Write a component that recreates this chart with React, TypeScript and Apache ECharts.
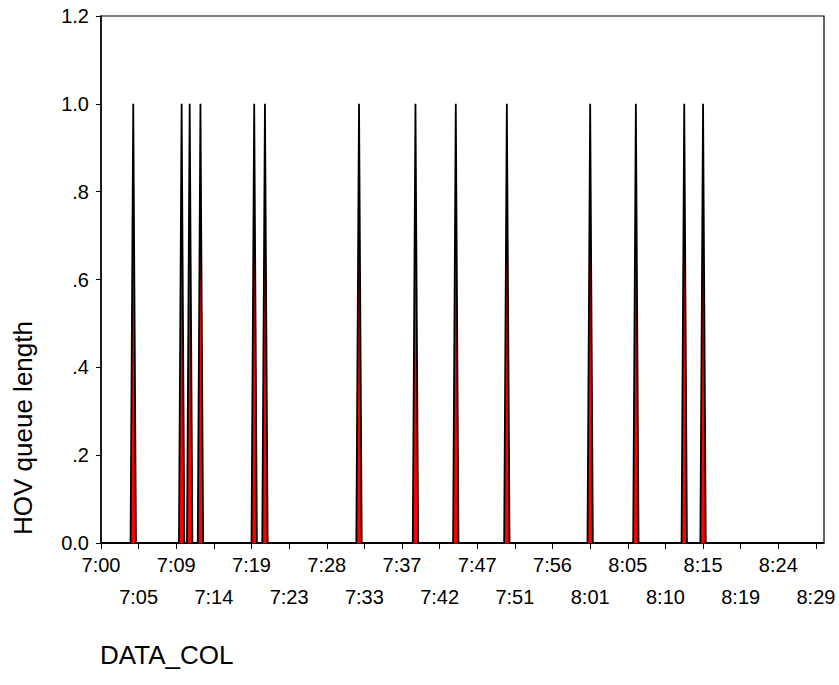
import React, { useEffect, useRef } from "react";
import * as echarts from "echarts";

// Time axis: one observation every 20 seconds, from 7:00:00 for 270 observations
const START_TIME = "7:00:00";
const STEP_SECONDS = 20;
const POINT_COUNT = 270;

// Times where the HOV queue length reached 1 (all other observations are 0)
const SPIKE_TIMES = [
  "7:04:00", "7:10:00", "7:11:00", "7:12:20", "7:19:00", "7:20:20",
  "7:32:00", "7:39:00", "7:44:00", "7:50:20", "8:00:40", "8:06:20",
  "8:12:20", "8:14:40",
];
const SPIKE_VALUE = 1;

const Y_TICKS = [0, 0.2, 0.4, 0.6, 0.8, 1.0, 1.2];
const X_TITLE = "DATA_COL";
const Y_TITLE = "HOV queue length";

function toSec(t: string): number {
  const [h, m, s] = t.split(":").map(Number);
  return h * 3600 + m * 60 + (s || 0);
}
function fmt(sec: number): string {
  const h = Math.floor(sec / 3600);
  const m = Math.floor((sec % 3600) / 60);
  const s = sec % 60;
  return `${h}:${String(m).padStart(2, "0")}:${String(s).padStart(2, "0")}`;
}

const categories: string[] = [];
for (let i = 0; i < POINT_COUNT; i++) categories.push(fmt(toSec(START_TIME) + i * STEP_SECONDS));
const spikeSet = new Set(SPIKE_TIMES);
const values: number[] = categories.map((c) => (spikeSet.has(c) ? SPIKE_VALUE : 0));

function minuteLabel(v: string): string {
  const sec = toSec(v);
  const mins = Math.round(sec / 60);
  const h = Math.floor(mins / 60);
  const m = mins % 60;
  return `${h}:${String(m).padStart(2, "0")}`;
}

const FONT = '"Liberation Sans", Arial, sans-serif';

export default function App() {
  const ref = useRef<HTMLDivElement>(null);
  useEffect(() => {
    document.body.style.margin = "0";
    const chart = echarts.init(ref.current!, undefined, { renderer: "svg" });
    const LEFT = 101, RIGHT = 15, TOP = 16, BOTTOM = 142;
    chart.setOption({
      animation: false,
      backgroundColor: "#fff",
      grid: {
        left: LEFT, right: RIGHT, top: TOP, bottom: BOTTOM,
        show: true, borderColor: "#000", borderWidth: 1.2, backgroundColor: "transparent",
      },
      xAxis: [
        {
          type: "category",
          data: categories,
          boundaryGap: false,
          position: "bottom",
          axisLine: { show: true, lineStyle: { color: "#000", width: 1.5 } },
          axisTick: { show: true, interval: 13, length: 6, lineStyle: { color: "#000", width: 1 } },
          axisLabel: {
            interval: (i: number) => i % 28 === 0,
            margin: 12,
            color: "#000",
            fontSize: 20,
            fontFamily: FONT,
            formatter: (v: string) => minuteLabel(v),
          },
          splitLine: { show: false },
        },
        {
          type: "category",
          data: categories,
          boundaryGap: false,
          position: "bottom",
          axisLine: { show: false },
          axisTick: { show: false },
          axisLabel: {
            interval: (i: number) => i % 28 === 14,
            margin: 44,
            color: "#000",
            fontSize: 20,
            fontFamily: FONT,
            formatter: (v: string) => minuteLabel(v),
          },
          splitLine: { show: false },
        },
      ],
      yAxis: {
        type: "value",
        min: Y_TICKS[0],
        max: Y_TICKS[Y_TICKS.length - 1],
        interval: 0.2,
        axisLine: { show: true, lineStyle: { color: "#000", width: 1.5 } },
        axisTick: { show: true, length: 5, lineStyle: { color: "#000" } },
        axisLabel: {
          margin: 12,
          color: "#000",
          fontSize: 20,
          fontFamily: FONT,
          formatter: (v: number) => {
            const s = v.toFixed(1);
            return v > 0 && v < 1 ? s.slice(1) : s;
          },
        },
        splitLine: { show: false },
      },
      series: [
        {
          type: "line",
          xAxisIndex: 0,
          data: values,
          symbol: "none",
          lineStyle: { color: "#000", width: 1.8 },
          areaStyle: { color: "#ff0000", opacity: 1 },
        },
      ],
      graphic: [
        {
          type: "text",
          x: 23,
          y: 428,
          rotation: Math.PI / 2,
          style: {
            text: Y_TITLE,
            fill: "#000",
            font: `26px ${FONT}`,
            align: "center",
            verticalAlign: "middle",
          },
        },
        {
          type: "text",
          x: 100,
          y: 655,
          style: {
            text: X_TITLE,
            fill: "#000",
            font: `26px ${FONT}`,
            align: "left",
            verticalAlign: "middle",
          },
        },
      ],
    });
    return () => chart.dispose();
  }, []);
  return (
    <div
      ref={ref}
      style={{ position: "fixed", left: 0, top: 0, width: 839, height: 685 }}
    />
  );
}
